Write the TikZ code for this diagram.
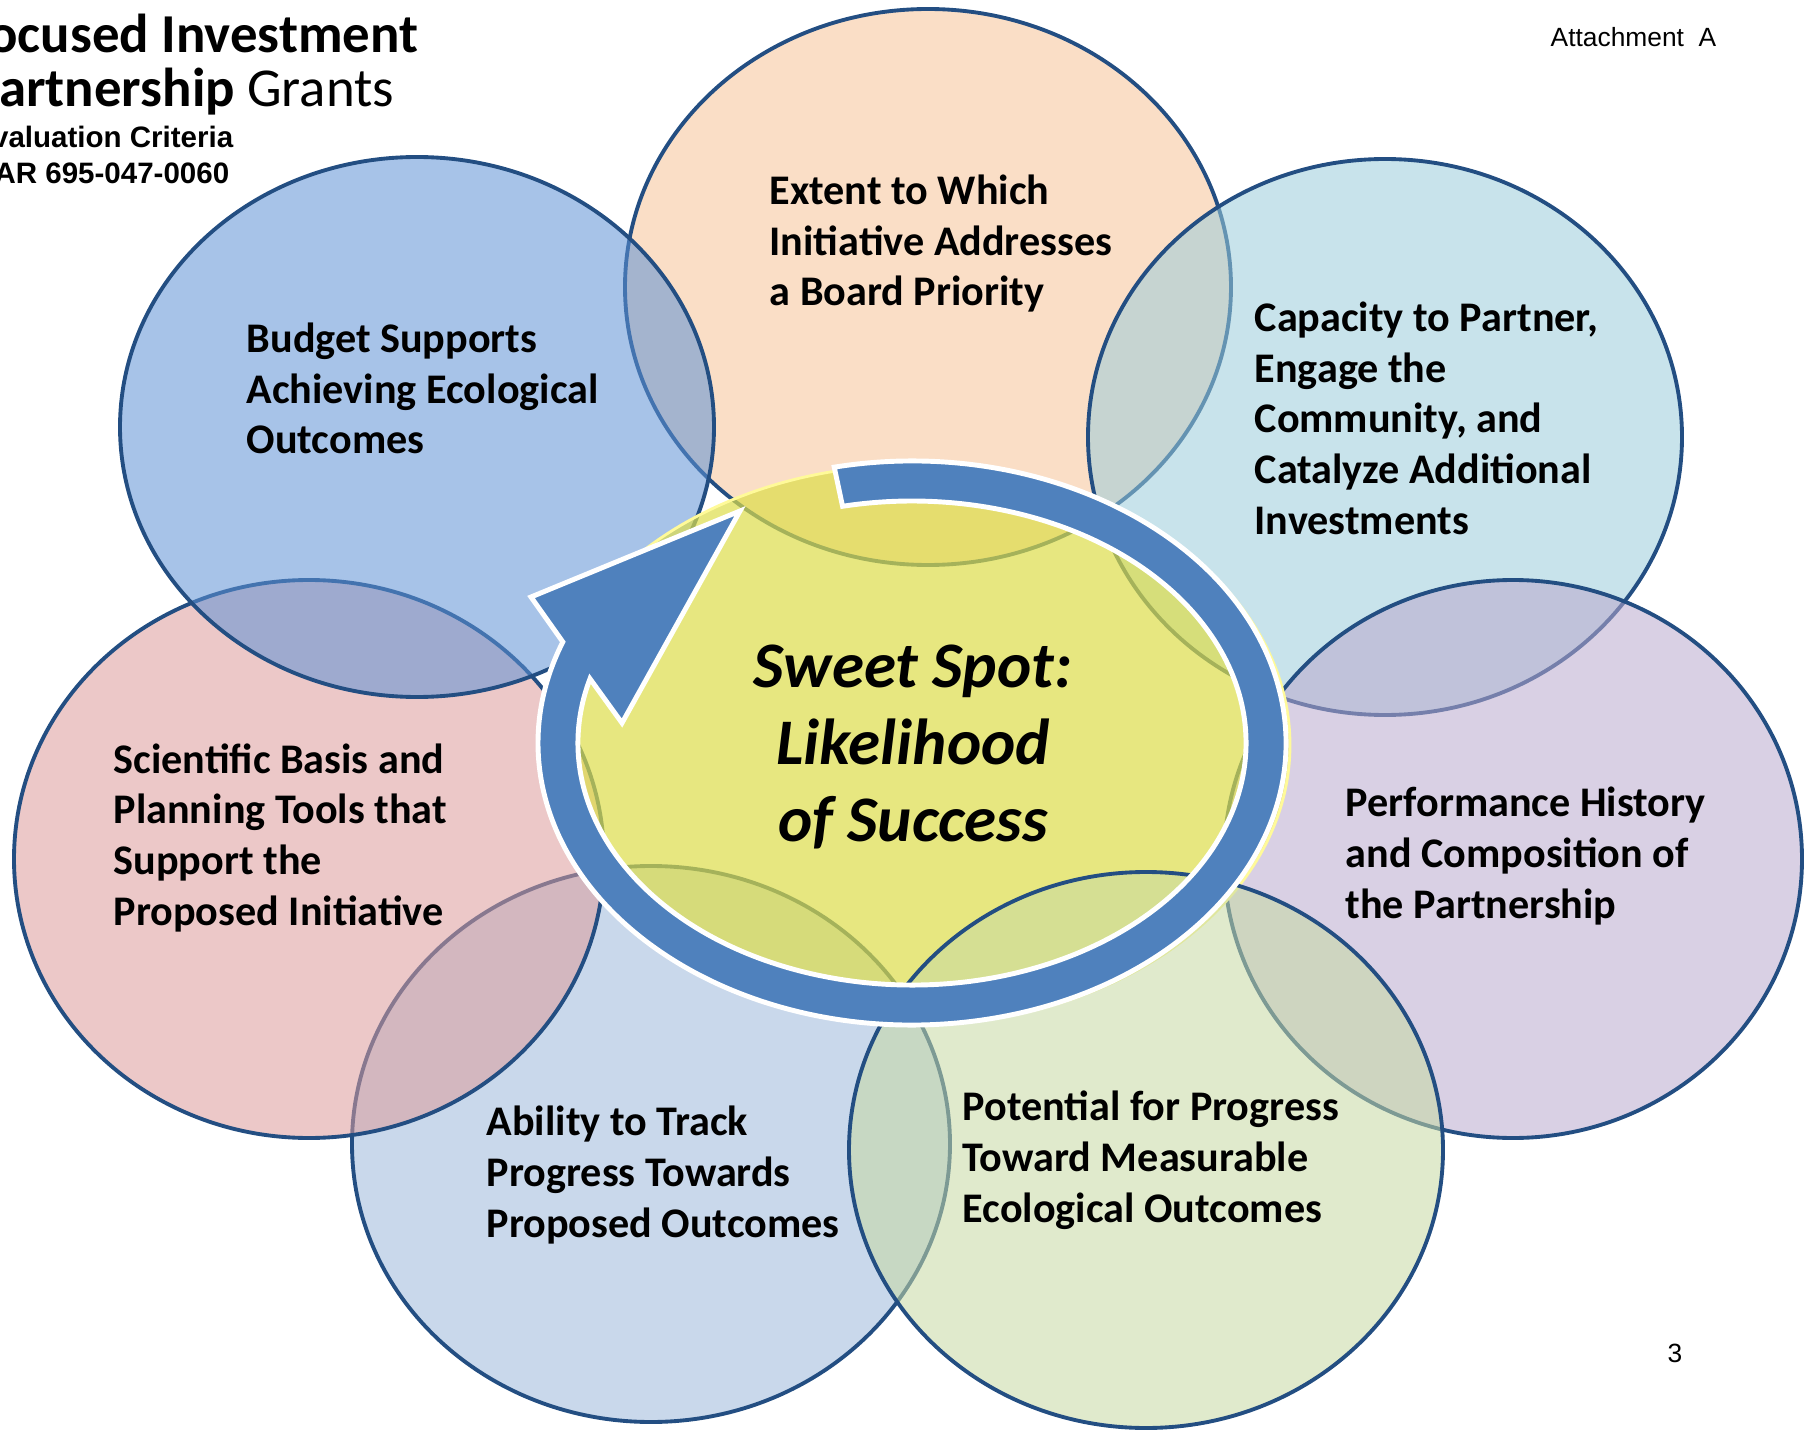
\documentclass[tikz,border=0pt]{standalone}
\usepackage{fontspec}
\setmainfont{Carlito}
\newfontfamily\arialfont{Liberation Sans}
\definecolor{rimblue}{RGB}{35,78,130}
\definecolor{ringblue}{RGB}{79,129,189}
\definecolor{peachfill}{RGB}{246,195,152}
\definecolor{cyanfill}{RGB}{155,204,218}
\definecolor{lavenderfill}{RGB}{186,169,205}
\definecolor{skyfill}{RGB}{157,184,218}
\definecolor{pinkfill}{RGB}{220,155,155}
\definecolor{bluefill}{RGB}{95,146,213}
\definecolor{greenfill}{RGB}{199,217,163}
\definecolor{sweetfill}{RGB}{221,221,74}

\begin{document}
\begin{tikzpicture}[
    zone/.style={draw=rimblue, line width=1.1pt, fill opacity=0.55},
    crit/.style={anchor=base west, align=left, inner sep=0pt,
                 font=\bfseries\fontsize{12}{14.4}\selectfont}]
  \useasboundingbox (0,0) rectangle (18.06,-14.32);
  \clip (0,0) rectangle (18.06,-14.32);
  % centres of the seven criteria and of the sweet spot
  \coordinate (peachc) at (9.28,-2.87);
  \coordinate (cyanc) at (13.85,-4.37);
  \coordinate (lavc) at (15.13,-8.59);
  \coordinate (skyc) at (6.51,-11.44);
  \coordinate (pinkc) at (3.09,-8.59);
  \coordinate (bluec) at (4.17,-4.27);
  \coordinate (greenc) at (11.46,-11.50);
  \coordinate (ringc) at (9.12,-7.43);

  \draw[zone, fill=peachfill] (peachc) ellipse (3.03 and 2.78);
  \draw[zone, fill=cyanfill] (cyanc) ellipse (2.97 and 2.78);
  \draw[zone, fill=lavenderfill] (lavc) ellipse (2.89 and 2.79);
  \draw[zone, fill=skyfill] (skyc) ellipse (2.99 and 2.78);
  \draw[zone, fill=pinkfill] (pinkc) ellipse (2.95 and 2.79);
  \draw[zone, fill=bluefill] (bluec) ellipse (2.97 and 2.70);
  \filldraw[fill=sweetfill, fill opacity=0.7, draw=yellow!40!white, line width=0.8pt]
    (9.14,-7.45) ellipse (3.76 and 2.80);
  \draw[zone, fill=greenfill] (greenc) ellipse (2.97 and 2.78);

  % circular arrow
  \begin{scope}[shift={(ringc)}]
    \filldraw[fill=ringblue, draw=white, line width=1.4pt]
      (102:3.74 and 2.82)
        arc[start angle=102, end angle=-201, x radius=3.74, y radius=2.82]
      -- (-3.81,1.46) -- (-1.72,2.32) -- (-2.90,0.20)
      -- (-195.4:3.34 and 2.42)
        arc[start angle=-195.4, end angle=102, x radius=3.34, y radius=2.42]
      -- cycle;
  \end{scope}

  % texts, placed at the baseline of their last line
  \node[crit] (budget) at (2.46,-4.54)
    {Budget Supports\\Achieving Ecological\\Outcomes};
  \node[crit] (extent) at (7.69,-3.06)
    {Extent to Which\\Initiative Addresses\\a Board Priority};
  \node[crit] (capacity) at (12.54,-5.34)
    {Capacity to Partner,\\Engage the\\Community, and\\Catalyze Additional\\Investments};
  \node[crit] (science) at (1.13,-9.25)
    {Scientific Basis and\\Planning Tools that\\Support the\\Proposed Initiative};
  \node[crit] (history) at (13.45,-9.18)
    {Performance History\\and Composition of\\the Partnership};
  \node[crit] (tracking) at (4.86,-12.37)
    {Ability to Track\\Progress Towards\\Proposed Outcomes};
  \node[crit] (progress) at (9.62,-12.22)
    {Potential for Progress\\Toward Measurable\\Ecological Outcomes};
  \node[anchor=base, align=center, inner sep=0pt,
        font=\bfseries\itshape\fontsize{18.5}{21.8}\selectfont] (sweet) at (9.13,-8.41)
    {Sweet Spot:\\Likelihood\\of Success};

  % page header and footer
  \node[anchor=base east, inner sep=0pt, font=\bfseries\fontsize{15.6}{17}\selectfont]
    (title1) at (4.19,-0.53) {Focused Investment};
  \node[anchor=base east, inner sep=0pt, font=\fontsize{15.6}{17}\selectfont]
    (title2) at (3.95,-1.07) {\textbf{Partnership} Grants};
  \node[anchor=base east, inner sep=0pt, font=\arialfont\bfseries\fontsize{8.4}{10}\selectfont]
    (title3) at (2.34,-1.48) {Evaluation Criteria};
  \node[anchor=base east, inner sep=0pt, font=\arialfont\bfseries\fontsize{8.4}{10}\selectfont]
    (title4) at (2.30,-1.84) {OAR 695-047-0060};
  \node[anchor=base west, inner sep=0pt, font=\arialfont\fontsize{7.5}{9}\selectfont]
    (attach) at (15.50,-0.47) {Attachment\ \ A};
  \node[anchor=base, inner sep=0pt, font=\arialfont\fontsize{7.5}{9}\selectfont]
    (pagenum) at (16.75,-13.62) {3};
\end{tikzpicture}
\end{document}
